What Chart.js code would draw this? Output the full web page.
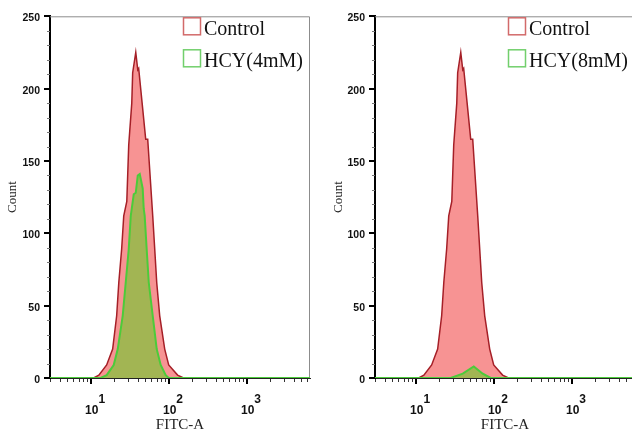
<!DOCTYPE html>
<html>
<head>
<meta charset="utf-8">
<script src="https://cdn.jsdelivr.net/npm/chart.js@4.4.0/dist/chart.umd.min.js"></script>
<style>
  body { margin: 0; width: 632px; height: 431px; overflow: hidden; position: relative; background: #fff; }
  .painel { position: absolute; top: 0; }
</style>
</head>
<body>
<div class="painel" style="left:0"><canvas id="grafico4" width="316" height="431"></canvas></div>
<div class="painel" style="left:316px"><canvas id="grafico8" width="320" height="431"></canvas></div>
<script>
// Dados: intensidade FITC-A (eixo log) x contagem de celulas
const xControle = [3, 10.9, 12.7, 16, 19.1, 21.5, 22.9, 24.9, 26.5, 29, 30.7, 33.6, 34.5, 37.8, 40.1, 41.2, 46.4, 50.7, 53.8, 62.4, 66.2, 70.2, 76.7, 88.9, 100, 130, 155, 6500];
const yControle = [0, 0, 2, 9, 20, 43, 66, 89, 112, 122, 161, 190, 211, 225, 213, 214, 186, 165, 165, 112, 89, 66, 43, 20, 9, 2, 0, 0];

const xHcy4 = [3, 13.4, 16, 19.7, 22.2, 25.7, 28.1, 30.7, 32.6, 35.6, 37.8, 40.1, 42.5, 46.4, 47.8, 49.2, 52.2, 55.5, 62.4, 70.2, 78.9, 91.5, 100, 6500];
const yHcy4 = [0, 0, 2, 9, 20, 43, 66, 89, 112, 127, 128, 140, 141, 131, 117, 112, 89, 66, 43, 20, 9, 2, 0, 0];

const xHcy8 = [3, 28.1, 40.1, 55.5, 72.3, 91.5, 6500];
const yHcy8 = [0, 0, 3, 8, 3, 0, 0];

const ticksY = [0, 50, 100, 150, 200, 250];   // rotulos do eixo y
const decadas = [10, 100, 1000];                // rotulos 10^n do eixo x

function montaDados(xs, ys) { // junta os pares x,y para o chart.js
  return xs.map((x, i) => ({ x: x, y: ys[i] }));
}

// plugin que desenha moldura, tracinhos dos eixos, rotulos 10^n e legenda
const eixosPlugin = {
  id: 'eixos',
  beforeDatasetsDraw(chart) {
    const ctx = chart.ctx, a = chart.chartArea;
    ctx.save();
    ctx.strokeStyle = '#8c8c8c';
    ctx.lineWidth = 1;
    ctx.beginPath();
    ctx.moveTo(a.left, a.top + 0.5);
    ctx.lineTo(a.right - 0.5, a.top + 0.5);
    ctx.lineTo(a.right - 0.5, a.bottom);
    ctx.stroke();
    ctx.restore();
  },
  afterDraw(chart) {
    const ctx = chart.ctx, a = chart.chartArea;
    const sx = chart.scales.x, sy = chart.scales.y;
    ctx.save();

    // tracinhos do eixo y
    sy.ticks.forEach(t => {
      const y = Math.round(sy.getPixelForValue(t.value));
      const maior = ticksY.includes(t.value);
      ctx.strokeStyle = maior ? '#000' : '#777';
      ctx.lineWidth = maior ? 2 : 1;
      ctx.beginPath();
      ctx.moveTo(a.left - (maior ? 6 : 3), y + (maior ? 0 : 0.5));
      ctx.lineTo(a.left, y + (maior ? 0 : 0.5));
      ctx.stroke();
    });

    // tracinhos do eixo x (so 1..9 x 10^n)
    sx.ticks.forEach(t => {
      const v = t.value;
      const m = v / Math.pow(10, Math.floor(Math.log10(v) + 1e-9));
      if (Math.abs(m - Math.round(m)) > 1e-6) return;
      const maior = Math.round(m) === 1;
      const x = Math.round(sx.getPixelForValue(v));
      ctx.strokeStyle = maior ? '#000' : '#333';
      ctx.lineWidth = maior ? 2 : 1;
      ctx.beginPath();
      ctx.moveTo(x + (maior ? 0 : 0.5), a.bottom + 1);
      ctx.lineTo(x + (maior ? 0 : 0.5), a.bottom + (maior ? 6 : 4));
      ctx.stroke();
    });

    // rotulos 10^n
    ctx.fillStyle = '#111';
    ctx.textAlign = 'center';
    ctx.textBaseline = 'middle';
    ctx.font = 'bold 12px "Liberation Sans", Arial';
    decadas.forEach(d => {
      const x = sx.getPixelForValue(d);
      ctx.fillText('10', x + 1, a.bottom + 33);
      ctx.fillText(String(Math.round(Math.log10(d))), x + 11, a.bottom + 22);
    });

    // legenda
    ctx.textAlign = 'left';
    ctx.textBaseline = 'alphabetic';
    ctx.font = '20px "Liberation Serif", "Times New Roman"';
    chart.data.datasets.forEach((ds, i) => {
      const bx = a.left + 133, by = a.top + 1 + i * 32;
      ctx.strokeStyle = ds.legendaCor;
      ctx.lineWidth = 1.5;
      ctx.strokeRect(bx + 0.5, by + 0.5, 17, 17);
      ctx.fillStyle = '#111';
      ctx.fillText(ds.label, bx + 21, by + 18);
    });
    ctx.restore();
  }
};

function criaGrafico(id, rotuloHcy, xHcy, yHcy, padEsq, padDir, larguraY) {
  return new Chart(document.getElementById(id), {
    type: 'line',
    data: {
      datasets: [{
        label: 'Control',
        data: montaDados(xControle, yControle),
        borderColor: '#a51f27',
        backgroundColor: '#f79393',
        borderWidth: 1.5,
        fill: 'origin',
        pointRadius: 0,
        tension: 0,
        order: 2,
        legendaCor: '#d26a6a'
      }, {
        label: rotuloHcy,
        data: montaDados(xHcy, yHcy),
        borderColor: '#4ccb3a',
        backgroundColor: 'rgba(125,195,55,0.7)',
        borderWidth: 2,
        fill: 'origin',
        pointRadius: 0,
        tension: 0,
        order: 1,
        legendaCor: '#72cf6c'
      }]
    },
    options: {
      responsive: false,
      animation: false,
      layout: { padding: { left: padEsq, right: padDir, top: 14, bottom: 0 } },
      plugins: { legend: { display: false }, tooltip: { enabled: false } },
      scales: {
        x: {
          type: 'logarithmic',
          min: 3,
          max: 6500,
          afterFit: s => { s.height = 53; },
          grid: { drawOnChartArea: false, drawTicks: false },
          border: { color: '#222', width: 1 },
          ticks: { display: false, autoSkip: false },
          title: { display: true, text: 'FITC-A', color: '#222', padding: 0,
                   font: { family: '"Liberation Serif", "Times New Roman"', size: 15, lineHeight: 0.8 } }
        },
        y: {
          min: 0,
          max: 250,
          afterFit: s => { s.width = larguraY; },
          grid: { drawOnChartArea: false, drawTicks: false },
          border: { color: '#000', width: 2 },
          ticks: {
            stepSize: 10,
            autoSkip: false,
            padding: 10,
            labelOffset: 2,
            color: '#111',
            font: { family: '"Liberation Sans", Arial', weight: 'bold', size: 10.5 },
            callback: v => ticksY.includes(v) ? v : ''
          },
          title: { display: true, text: 'Count', color: '#222', padding: { top: 0, bottom: 0 },
                   font: { family: '"Liberation Serif", "Times New Roman"', size: 13, lineHeight: 1 } }
        }
      }
    },
    plugins: [eixosPlugin]
  });
}

const grafico4 = criaGrafico('grafico4', 'HCY(4mM)', xHcy4, yHcy4, 6, 6, 44);
const grafico8 = criaGrafico('grafico8', 'HCY(8mM)', xHcy8, yHcy8, 16, 1, 43);
</script>
</body>
</html>
